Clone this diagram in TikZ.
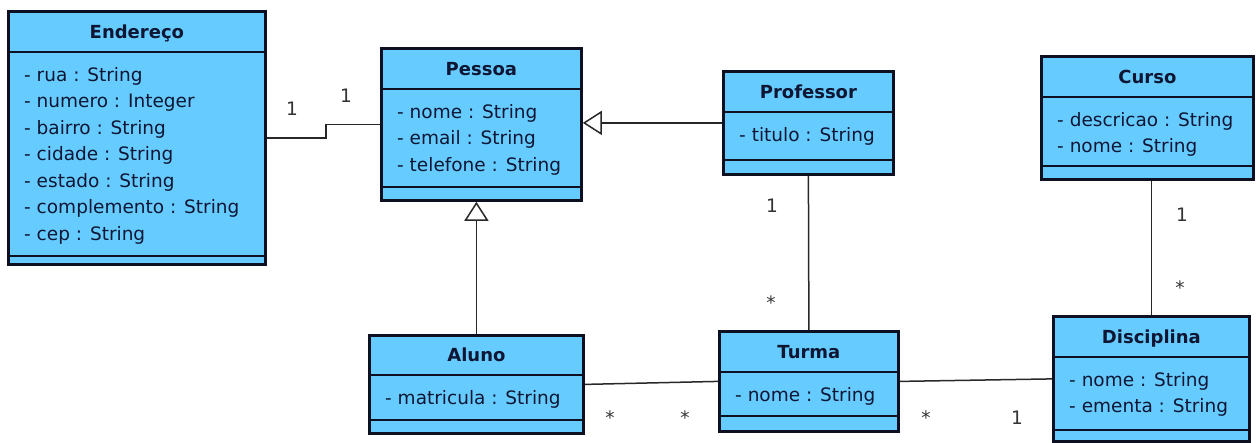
\documentclass[tikz,border=0pt]{standalone}
\usepackage{fontspec}
\setmainfont{DejaVu Sans}
\usetikzlibrary{arrows.meta,calc}

\definecolor{classfill}{RGB}{102,204,255}
\definecolor{classline}{RGB}{12,16,32}
\definecolor{classtext}{RGB}{14,22,52}
\definecolor{linkline}{RGB}{40,40,40}

\tikzset{
  classbox/.style={draw=classline, line width=2.8pt, fill=classfill, inner sep=0pt},
  divider/.style={draw=classline, line width=1.6pt},
  classtitle/.style={font=\fontsize{18}{20}\selectfont\bfseries, text=classtext,
    inner sep=0pt, anchor=base},
  attrs/.style={font=\fontsize{18.5}{26.5}\selectfont, text=classtext,
    inner sep=0pt, anchor=base west},
  link/.style={draw=linkline, line width=1.5pt},
  gen/.style={link, -{Triangle[open, length=19pt, width=24pt, line width=1.5pt]}},
  mult/.style={font=\fontsize{18.5}{20}\selectfont, text=black!80, inner sep=0pt, anchor=base},
}

% #1 name, #2 left, #3 top, #4 width, #5 height,
% #6 header height, #7 operations compartment height, #8 class name, #9 attributes
\newcommand\umlclass[9]{%
  \node[classbox, anchor=north west, minimum width=#4pt, minimum height=#5pt] (#1) at (#2,#3) {};
  \draw[divider] ([yshift=-#6pt]#1.north west) -- ([yshift=-#6pt]#1.north east);
  \draw[divider] ([yshift=#7pt]#1.south west) -- ([yshift=#7pt]#1.south east);
  \node[classtitle] (#1-title) at ([yshift=-#6pt/2-7pt]#1.north) {#8};
  \node[attrs] (#1-attrs) at ([xshift=17pt, yshift=-#6pt-29pt]#1.north west)
    {\parbox[t]{240pt}{\raggedright #9}};
}

\begin{document}
\begin{tikzpicture}[x=1pt, y=-1pt]
\useasboundingbox[fill=white] (0,0) rectangle (1256,442);

% classes
\umlclass{endereco}{7}{10}{257}{253}{42}{10}{Endereço}{- rua : String\\- numero : Integer\\- bairro : String\\- cidade : String\\- estado : String\\- complemento : String\\- cep : String}
\umlclass{pessoa}{380}{47}{200}{152}{42}{15}{Pessoa}{- nome : String\\- email : String\\- telefone : String}
\umlclass{professor}{722}{70}{170}{103}{42}{16}{Professor}{- titulo : String}
\umlclass{curso}{1040}{55}{212}{123}{42}{15}{Curso}{- descricao : String\\- nome : String}
\umlclass{aluno}{368}{334}{214}{98}{41}{15}{Aluno}{- matricula : String}
\umlclass{turma}{718}{330}{179}{100}{42}{17}{Turma}{- nome : String}
\umlclass{disciplina}{1052}{315}{196}{125}{42}{13}{Disciplina}{- nome : String\\- ementa : String}

% associations
\draw[link] (endereco.east) -- ++(59,0) |- (pessoa.west);
\draw[link] (professor.south) -- (turma.north);
\draw[link] (disciplina.north |- curso.south) -- (disciplina.north);
\draw[link] (aluno.east) -- (turma.west);
\draw[link] (turma.east) -- (disciplina.west);

% generalizations
\draw[gen] (professor.west) -- (professor.west -| pessoa.east);
\draw[gen] (aluno.north) -- (aluno.north |- pessoa.south);

% multiplicities
\node[mult] (m-end) at (292,115) {1};
\node[mult] (m-pes) at (346,102) {1};
\node[mult] (m-prof) at (772,212) {1};
\node[mult] (m-turp) at (771,309) {*};
\node[mult] (m-cur) at (1182,221) {1};
\node[mult] (m-disc) at (1180,294) {*};
\node[mult] (m-alu) at (610,424) {*};
\node[mult] (m-tura) at (685,424) {*};
\node[mult] (m-turd) at (926,424) {*};
\node[mult] (m-dist) at (1017,424) {1};
\end{tikzpicture}
\end{document}
